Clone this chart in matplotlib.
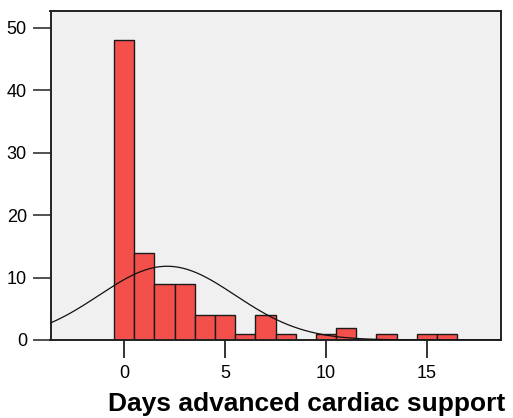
import numpy as np
import matplotlib
matplotlib.use("Agg")
import matplotlib.pyplot as plt

# Frequency of patients by number of days on advanced cardiac support
days = [0, 1, 2, 3, 4, 5, 6, 7, 8, 9, 10, 11, 12, 13, 14, 15, 16]
counts = [48, 14, 9, 9, 4, 4, 1, 4, 1, 0, 1, 2, 0, 1, 0, 1, 1]
x_ticks = [0, 5, 10, 15]
y_ticks = [0, 10, 20, 30, 40, 50]
x_label = "Days advanced cardiac support"

plt.rcParams["font.family"] = ["Liberation Sans", "DejaVu Sans"]

fig = plt.figure(figsize=(5.13, 4.18), dpi=100)
ax = fig.add_axes([50.5 / 513, 1 - 340 / 418, 450 / 513, 329 / 418])
ax.set_facecolor("#f0f0f0")

ax.bar(days, counts, width=1.0, color="#f4504b", edgecolor="#1a1a1a",
       linewidth=1.0, zorder=2)

# Normal curve fitted to the data, scaled to counts per unit bin
vals = np.repeat(days, counts)
mu = vals.mean()
sd = vals.std(ddof=1)
n = len(vals)
xs = np.linspace(-3.65, 18.7, 400)
ys = n / (sd * np.sqrt(2 * np.pi)) * np.exp(-0.5 * ((xs - mu) / sd) ** 2)
ax.plot(xs, ys, color="#111111", linewidth=0.9, zorder=3)

ax.set_xlim(-3.65, 18.65)
ax.set_ylim(0, 52.7)
ax.set_xticks(x_ticks)
ax.set_yticks(y_ticks)
ax.tick_params(axis="y", length=13, width=1.2, color="#333333",
               labelsize=13, pad=4)
ax.tick_params(axis="x", length=13, width=1.2, color="#111111",
               labelsize=13, pad=5)
for s in ax.spines.values():
    s.set_linewidth(1.4)
    s.set_color("#222222")

ax.set_xlabel(x_label, fontsize=19, fontweight="bold", va="center")
ax.xaxis.set_label_coords((307 - 50.5) / 450, (340 - 404) / 329)

fig.savefig("out.png", dpi=100, facecolor="white")
